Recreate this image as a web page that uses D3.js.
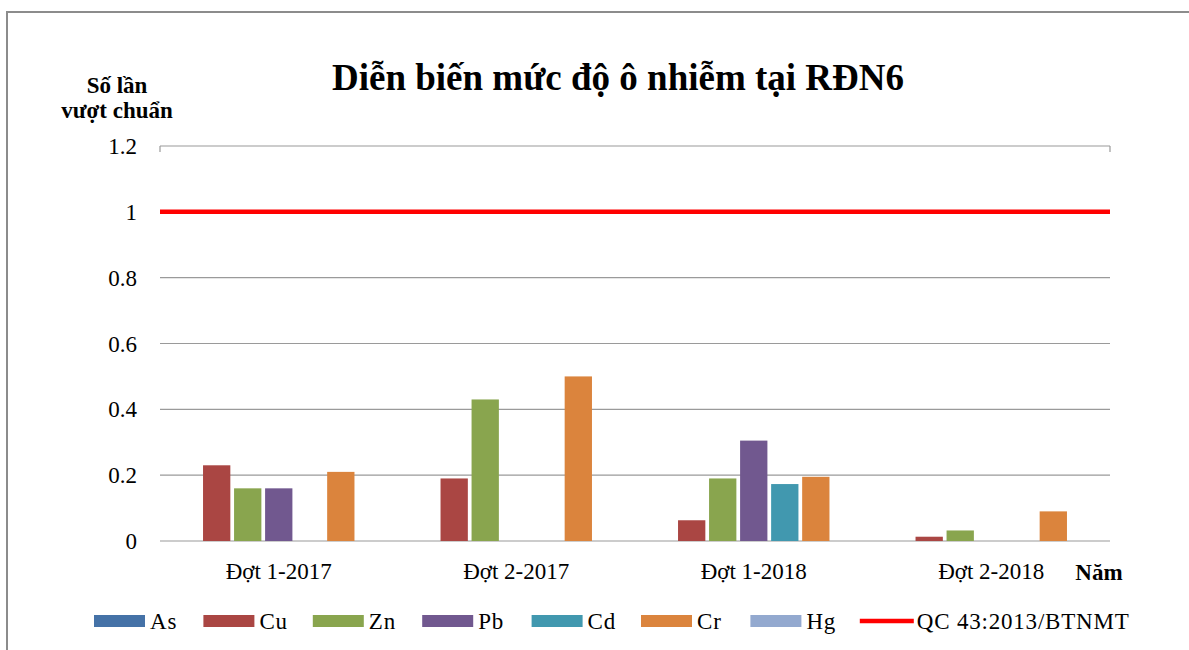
<!DOCTYPE html>
<html>
<head>
<meta charset="utf-8">
<script src="https://cdn.jsdelivr.net/npm/d3@7"></script>
<style>
  body { margin: 0; background: #fff; }
  text { font-family: "Liberation Serif", "Times New Roman", "DejaVu Serif", serif; }
</style>
</head>
<body>
<svg id="chart" width="1189" height="650"></svg>
<script>
"use strict";

// Dữ liệu
var categories = ["Đợt 1-2017", "Đợt 2-2017", "Đợt 1-2018", "Đợt 2-2018"];
var seriesNames = ["As", "Cu", "Zn", "Pb", "Cd", "Cr", "Hg"];
var As = [0, 0, 0, 0];
var Cu = [0.23, 0.19, 0.063, 0.013];
var Zn = [0.16, 0.43, 0.19, 0.032];
var Pb = [0.16, 0, 0.305, 0];
var Cd = [0, 0, 0.173, 0];
var Cr = [0.21, 0.50, 0.195, 0.09];
var Hg = [0, 0, 0, 0];
var limitValue = 1;
var limitName = "QC 43:2013/BTNMT";
var yTicks = [0, 0.2, 0.4, 0.6, 0.8, 1, 1.2];
var colors = ["#4572A7", "#AA4643", "#89A54E", "#71588F", "#4198AF", "#DB843D", "#93A9CF"];

var FONT = "'Liberation Serif', 'Times New Roman', 'DejaVu Serif', serif";

var values = [As, Cu, Zn, Pb, Cd, Cr, Hg];
var data = categories.map(function(cat, i) {
  return { cat: cat, items: seriesNames.map(function(name, s) {
    return { name: name, value: values[s][i], color: colors[s] };
  }) };
});

var svg = d3.select("#chart").attr("font-family", FONT);

// khung ngoài
svg.append("rect")
  .attr("x", 7).attr("y", 12)
  .attr("width", 1200).attr("height", 700)
  .attr("fill", "none")
  .attr("stroke", "#8c8c8c")
  .attr("stroke-width", 2);

var x0 = d3.scaleBand().domain(categories).range([160, 1110]);
var x1 = d3.scaleBand().domain(seriesNames)
  .range([12, x0.bandwidth() - 12])
  .paddingInner(0.12);
var y = d3.scaleLinear().domain([0, 1.2]).range([541, 146]);

// lưới ngang
svg.append("g")
  .selectAll("line")
  .data(yTicks)
  .enter()
  .append("line")
  .attr("x1", 160).attr("x2", 1110)
  .attr("y1", function(d) { return y(d); })
  .attr("y2", function(d) { return y(d); })
  .attr("stroke", "#9a9a9a")
  .attr("stroke-width", 1.2);

// hai vạch nhỏ ở đầu lưới trên cùng
svg.append("g")
  .selectAll("line")
  .data([160, 1110])
  .enter()
  .append("line")
  .attr("x1", function(d) { return d; })
  .attr("x2", function(d) { return d; })
  .attr("y1", y(1.2)).attr("y2", y(1.2) + 6)
  .attr("stroke", "#9a9a9a")
  .attr("stroke-width", 1.2);

// nhãn trục y
svg.append("g")
  .selectAll("text")
  .data(yTicks)
  .enter()
  .append("text")
  .attr("x", 137)
  .attr("y", function(d) { return y(d) + 8; })
  .attr("text-anchor", "end")
  .style("font-family", FONT)
  .style("font-size", "23px")
  .text(function(d) { return String(+d.toFixed(1)); });

// cột
var groups = svg.append("g")
  .selectAll("g")
  .data(data)
  .enter()
  .append("g")
  .attr("transform", function(d) { return "translate(" + x0(d.cat) + ",0)"; });

groups.selectAll("rect")
  .data(function(d) { return d.items.filter(function(it) { return it.value > 0; }); })
  .enter()
  .append("rect")
  .attr("x", function(d) { return x1(d.name); })
  .attr("y", function(d) { return y(d.value); })
  .attr("width", x1.bandwidth())
  .attr("height", function(d) { return y(0) - y(d.value); })
  .attr("fill", function(d) { return d.color; });

// đường giới hạn
svg.append("line")
  .attr("x1", 160).attr("x2", 1110)
  .attr("y1", y(limitValue)).attr("y2", y(limitValue))
  .attr("stroke", "#ff0000")
  .attr("stroke-width", 4.5);

// nhãn trục x
svg.append("g")
  .selectAll("text")
  .data(categories)
  .enter()
  .append("text")
  .attr("x", function(d) { return x0(d) + x0.bandwidth() / 2; })
  .attr("y", 579)
  .attr("text-anchor", "middle")
  .style("font-family", FONT)
  .style("font-size", "23px")
  .text(function(d) { return d; });

svg.append("text")
  .attr("x", 1099).attr("y", 580)
  .attr("text-anchor", "middle")
  .style("font-family", FONT)
  .style("font-size", "23px")
  .style("font-weight", "bold")
  .text("Năm");

// tiêu đề
svg.append("text")
  .attr("x", 618).attr("y", 90)
  .attr("text-anchor", "middle")
  .style("font-family", FONT)
  .style("font-size", "37px")
  .style("font-weight", "bold")
  .text("Diễn biến mức độ ô nhiễm tại RĐN6");

// tên trục y
var yTitle = svg.append("text")
  .attr("text-anchor", "middle")
  .style("font-family", FONT)
  .style("font-size", "23px")
  .style("font-weight", "bold");
yTitle.append("tspan").attr("x", 117).attr("y", 93).text("Số lần");
yTitle.append("tspan").attr("x", 117).attr("y", 118).text("vượt chuẩn");

// chú giải
var legendItems = seriesNames.map(function(n, i) { return { name: n, color: colors[i], type: "bar" }; });
legendItems.push({ name: limitName, color: "#ff0000", type: "line" });

var legend = svg.append("g")
  .attr("class", "legend")
  .style("font-family", FONT)
  .style("font-size", "23px")
  .style("letter-spacing", "0.8px");

var item = legend.selectAll("g")
  .data(legendItems)
  .enter()
  .append("g")
  .attr("transform", function(d, i) { return "translate(" + (94 + i * 109.4) + ",0)"; });

item.filter(function(d) { return d.type === "bar"; })
  .append("rect")
  .attr("x", 0).attr("y", 615)
  .attr("width", 51).attr("height", 12)
  .attr("fill", function(d) { return d.color; });

item.filter(function(d) { return d.type === "line"; })
  .append("line")
  .attr("x1", 0).attr("x2", 54)
  .attr("y1", 621).attr("y2", 621)
  .attr("stroke", function(d) { return d.color; })
  .attr("stroke-width", 4.5);

item.append("text")
  .attr("x", function(d) { return d.type === "line" ? 57 : 56; })
  .attr("y", 629)
  .text(function(d) { return d.name; });
</script>
</body>
</html>
